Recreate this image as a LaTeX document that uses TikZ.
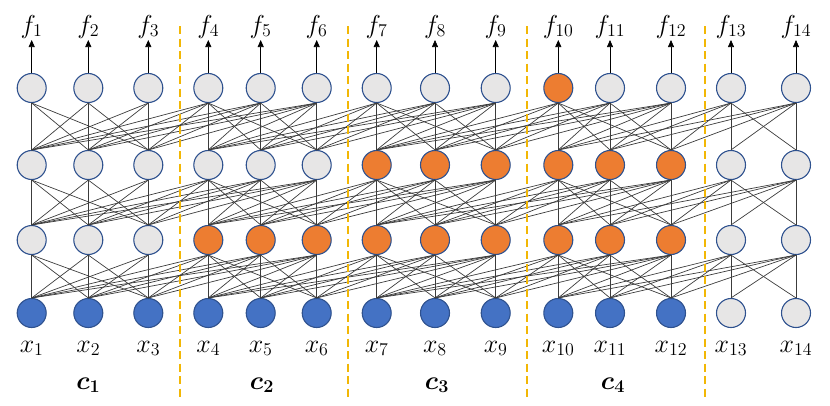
\documentclass[tikz,border=0pt]{standalone}
\usepackage{bm}
\usetikzlibrary{arrows.meta}
\definecolor{nodegray}{HTML}{E7E6E6}
\definecolor{nodeblue}{HTML}{4472C4}
\definecolor{nodeorange}{HTML}{ED7D31}
\definecolor{nodeedge}{HTML}{2F528F}
\definecolor{sepgold}{HTML}{F2B705}
\definecolor{linkgray}{HTML}{3C3C3C}
\begin{document}
\begin{tikzpicture}[x=1pt,y=-1pt,
  unit/.style={circle,minimum size=29pt,inner sep=0pt,draw=nodeedge,line width=1.1pt},
  gnode/.style={unit,fill=nodegray},
  onode/.style={unit,fill=nodeorange},
  bnode/.style={unit,fill=nodeblue},
  link/.style={draw=linkgray,line width=0.7pt},
  outarrow/.style={draw=black,line width=0.6pt,-{Triangle[length=7pt,width=6pt]}},
  sepline/.style={draw=sepgold,line width=2pt,dash pattern=on 8pt off 4.5pt},
  lbl/.style={anchor=base,inner sep=0pt,font=\huge,scale=1.25,transform shape}]
\useasboundingbox (0,0) rectangle (830,405);
\def\colx{{0,31.7,88.3,148.3,208.3,260.7,316.7,376.7,435,495.7,558.3,610,671,731,796}}
% layer 0 (inputs)
\foreach \j in {1,...,14}{
  \pgfmathsetmacro\xx{\colx[\j]}
  \ifnum\j<13 \def\st{bnode}\else\def\st{gnode}\fi
  \node[\st] (L0-\j) at (\xx,313) {};
}
% layer 1
\foreach \j in {1,...,14}{
  \pgfmathsetmacro\xx{\colx[\j]}
  \def\st{onode}
  \ifnum\j<4 \def\st{gnode}\fi
  \ifnum\j>12 \def\st{gnode}\fi
  \node[\st] (L1-\j) at (\xx,240) {};
}
% layer 2
\foreach \j in {1,...,14}{
  \pgfmathsetmacro\xx{\colx[\j]}
  \def\st{onode}
  \ifnum\j<7 \def\st{gnode}\fi
  \ifnum\j>12 \def\st{gnode}\fi
  \node[\st] (L2-\j) at (\xx,165) {};
}
% layer 3
\foreach \j in {1,...,14}{
  \pgfmathsetmacro\xx{\colx[\j]}
  \def\st{gnode}
  \ifnum\j=10 \def\st{onode}\fi
  \node[\st] (L3-\j) at (\xx,88) {};
}
% chunk connections: current and previous chunk
\foreach \u/\a/\b in {1/1/3,2/1/3,3/1/3,4/1/6,5/1/6,6/1/6,7/4/9,8/4/9,9/4/9,10/7/12,11/7/12,12/7/12,13/10/14,14/10/14}{
  \foreach \l/\m in {0/1,1/2,2/3}{
    \foreach \i in {\a,...,\b}{
      \draw[link] (L\l-\i.north) -- (L\m-\u.south);
    }
  }
}
% outputs, inputs labels
\foreach \j in {1,...,14}{
  \pgfmathsetmacro\xx{\colx[\j]}
  \coordinate (tip\j) at (\xx,40);
  \draw[outarrow] (L3-\j.north) -- (tip\j);
  \node[lbl] (f\j) at (\xx,33) {$f_{\j}$};
  \node[lbl] (x\j) at (\xx,352) {$x_{\j}$};
}
% chunk labels
\node[lbl] (c1) at (88.3,389) {$\bm{c}_{\bm{1}}$};
\node[lbl] (c2) at (262,389) {$\bm{c}_{\bm{2}}$};
\node[lbl] (c3) at (437,389) {$\bm{c}_{\bm{3}}$};
\node[lbl] (c4) at (613,389) {$\bm{c}_{\bm{4}}$};
% separators
\foreach \k/\sx in {1/180,2/347.5,3/527,4/705}{
  \coordinate (s\k t) at (\sx,26);
  \coordinate (s\k b) at (\sx,398);
  \draw[sepline] (s\k t) -- (s\k b);
}
\end{tikzpicture}
\end{document}
